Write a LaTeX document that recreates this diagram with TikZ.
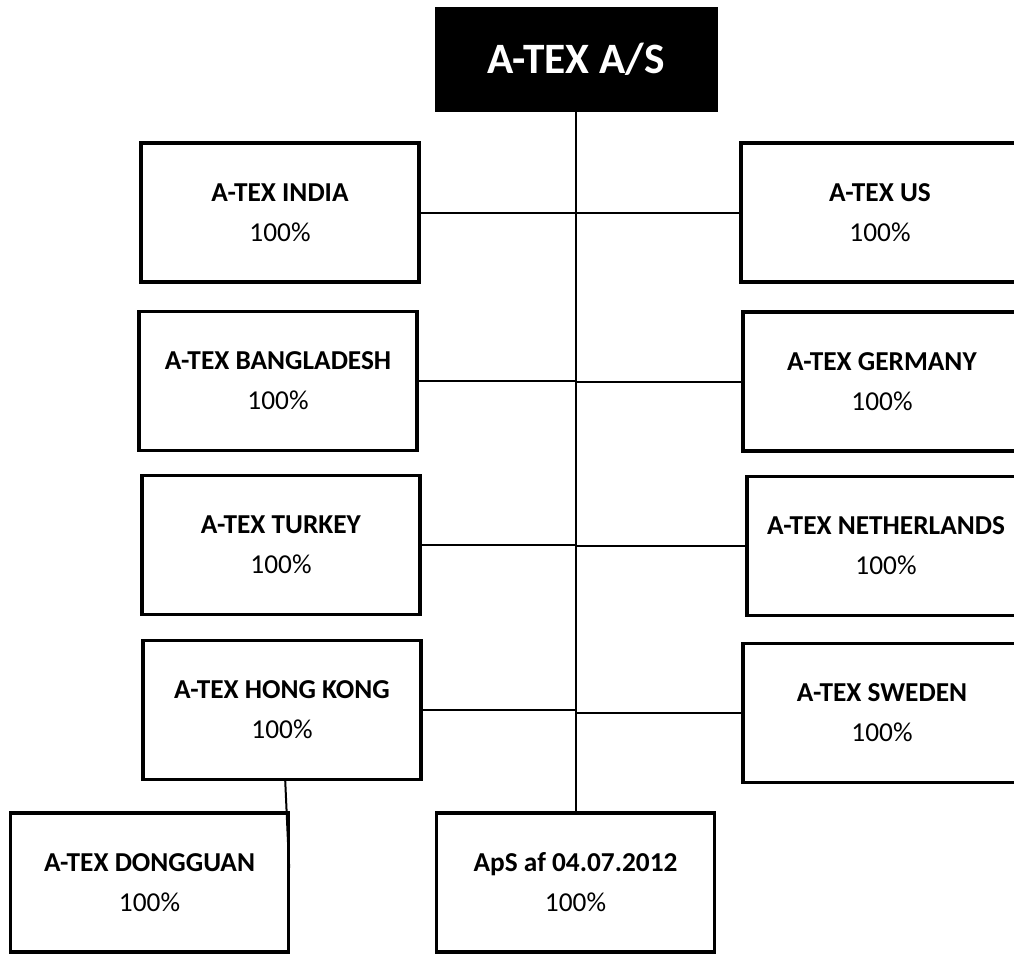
\documentclass[tikz,border=0pt]{standalone}
\usepackage{fontspec}
\setmainfont{Carlito}
\usepackage{tikz}
\usetikzlibrary{positioning}

\tikzset{
  firma/.style={draw, line width=2.6pt, fill=white, minimum width=208.5pt, minimum height=104pt,
    align=center, font=\fontsize{20.5}{30}\selectfont, inner sep=0pt},
  moder/.style={draw, fill=black, text=white, minimum width=211.5pt, minimum height=78pt,
    font=\fontsize{32.5}{36}\selectfont\bfseries, inner sep=0pt},
  forb/.style={line width=1.5pt}
}

\begin{document}
\begin{tikzpicture}[x=0.75pt,y=-0.75pt]
\useasboundingbox (0,0) rectangle (1014,954);
\clip (0,0) rectangle (1014,954);
\node[moder] (atex) at (576,59) {A-TEX A/S};
\node[firma] (india) at (280,212.5) {\textbf{A-TEX INDIA}\\100\%};
\node[firma] (us) at (880,212.5) {\textbf{A-TEX US}\\100\%};
\node[firma] (bangla) at (278,381) {\textbf{A-TEX BANGLADESH}\\100\%};
\node[firma] (germany) at (882,381.5) {\textbf{A-TEX GERMANY}\\100\%};
\node[firma] (turkey) at (281,545) {\textbf{A-TEX TURKEY}\\100\%};
\node[firma] (nl) at (886,546) {\textbf{A-TEX NETHERLANDS}\\100\%};
\node[firma] (hk) at (282,710) {\textbf{A-TEX HONG KONG}\\100\%};
\node[firma] (sweden) at (882,713) {\textbf{A-TEX SWEDEN}\\100\%};
\node[firma] (dg) at (149.5,882.5) {\textbf{A-TEX DONGGUAN}\\100\%};
\node[firma] (aps) at (575.5,882.5) {\textbf{ApS af 04.07.2012}\\100\%};

\draw[forb] (atex.south) -- (atex.south |- aps.north);
\foreach \f in {india,bangla,turkey,hk,us,germany,nl,sweden}
  \draw[forb] (\f) -- (\f -| atex.south);
\draw[forb] ([xshift=-3.75pt]dg.north east |- hk.south) -- ([xshift=-0.8pt,yshift=10.9pt]dg.east);
\end{tikzpicture}
\end{document}
